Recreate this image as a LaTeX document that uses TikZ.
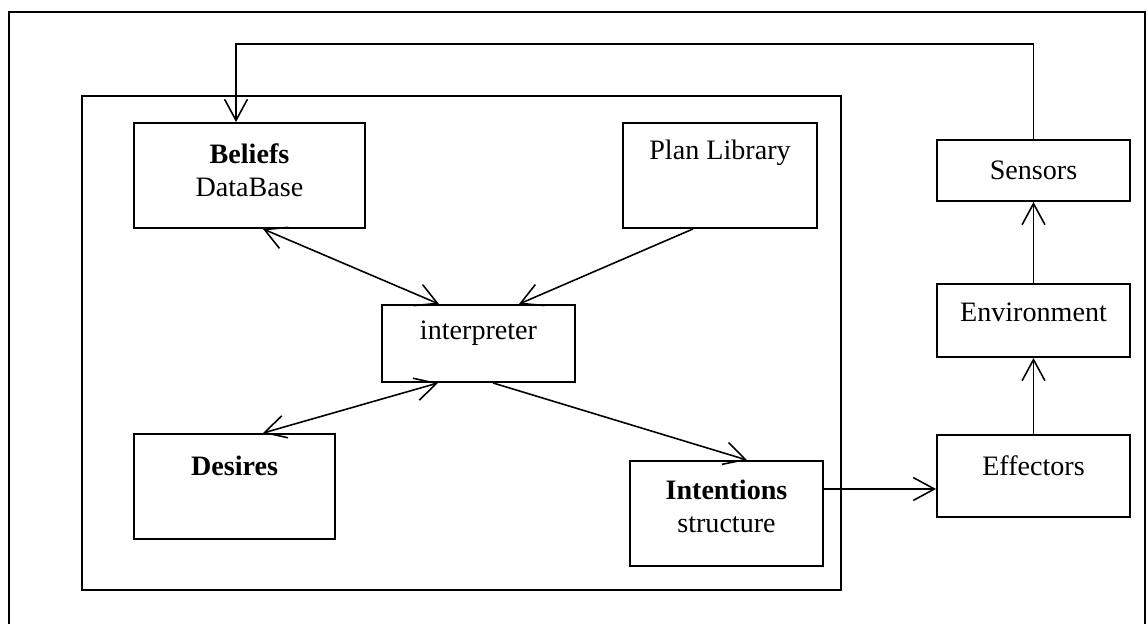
\documentclass[tikz,border=0pt]{standalone}
\usepackage{fontspec}
\setmainfont{Liberation Serif}
\usepackage{tikz}
\usetikzlibrary{
    calc,
    arrows.meta,
    positioning
}
\tikzset{
    box/.style={draw, rectangle, line width=1.1pt, inner sep=0pt},
    lbl/.style={align=center, font=\fontsize{16pt}{19pt}\selectfont},
    flow/.style={line width=0.9pt, -{Straight Barb[length=12pt,width=13pt]}},
    twoway/.style={line width=0.9pt, {Straight Barb[length=12pt,width=13pt]}-{Straight Barb[length=12pt,width=13pt]}}
}

\begin{document}
\begin{tikzpicture}[x=0.02cm, y=-0.02cm]
        \useasboundingbox (0,0) rectangle (1148,624);
        % outer frame runs off the bottom edge
        \draw[line width=1.3pt] (9,624) -- (9,12) -- (1145,12) -- (1145,624);
        \draw[line width=1.1pt] (82,96) rectangle (841,590);

        \draw (249.5,175.5) node[box, minimum width=4.62cm, minimum height=2.1cm,
            label={[lbl, yshift=0.1cm]center:\textbf{Beliefs}\\DataBase}](beliefs){};
        \draw (720,175.5) node[box, minimum width=3.88cm, minimum height=2.1cm,
            label={[lbl, yshift=0.46cm]center:Plan Library}](plan){};
        \draw (478.5,343.5) node[box, minimum width=3.86cm, minimum height=1.54cm,
            label={[lbl, yshift=0.2cm]center:interpreter}](interp){};
        \draw (234.5,486.5) node[box, minimum width=4.02cm, minimum height=2.1cm,
            label={[lbl, yshift=0.42cm]center:\textbf{Desires}}](desires){};
        \draw (726.5,513.5) node[box, minimum width=3.86cm, minimum height=2.1cm,
            label={[lbl, yshift=0.14cm]center:\textbf{Intentions}\\structure}](intent){};
        \draw (1033.5,170.5) node[box, minimum width=3.86cm, minimum height=1.22cm,
            label={[lbl]center:Sensors}](sensors){};
        \draw (1033.5,320.5) node[box, minimum width=3.86cm, minimum height=1.46cm,
            label={[lbl, yshift=0.16cm]center:Environment}](env){};
        \draw (1033.5,476) node[box, minimum width=3.86cm, minimum height=1.64cm,
            label={[lbl, yshift=0.2cm]center:Effectors}](effect){};

        \draw[twoway] ([xshift=0.27cm]beliefs.south) to ([xshift=-0.79cm]interp.north);
        \draw[flow] ([xshift=-0.54cm]plan.south) to ([xshift=0.81cm]interp.north);
        \draw[twoway] ([xshift=0.57cm]desires.north) to ([xshift=-0.81cm]interp.south);
        \draw[flow] ([xshift=0.29cm]interp.south) to ([xshift=0.41cm]intent.north);
        \draw[flow] ([yshift=0.49cm]intent.east) to ([yshift=0.49cm]intent.east -| effect.west);
        \draw[flow] (effect) to (env);
        \draw[flow] (env) to (sensors);
        \draw[flow] (sensors.north) -- ++(0,-95) -| ([xshift=-0.27cm]beliefs.north);
    \end{tikzpicture}
\end{document}
